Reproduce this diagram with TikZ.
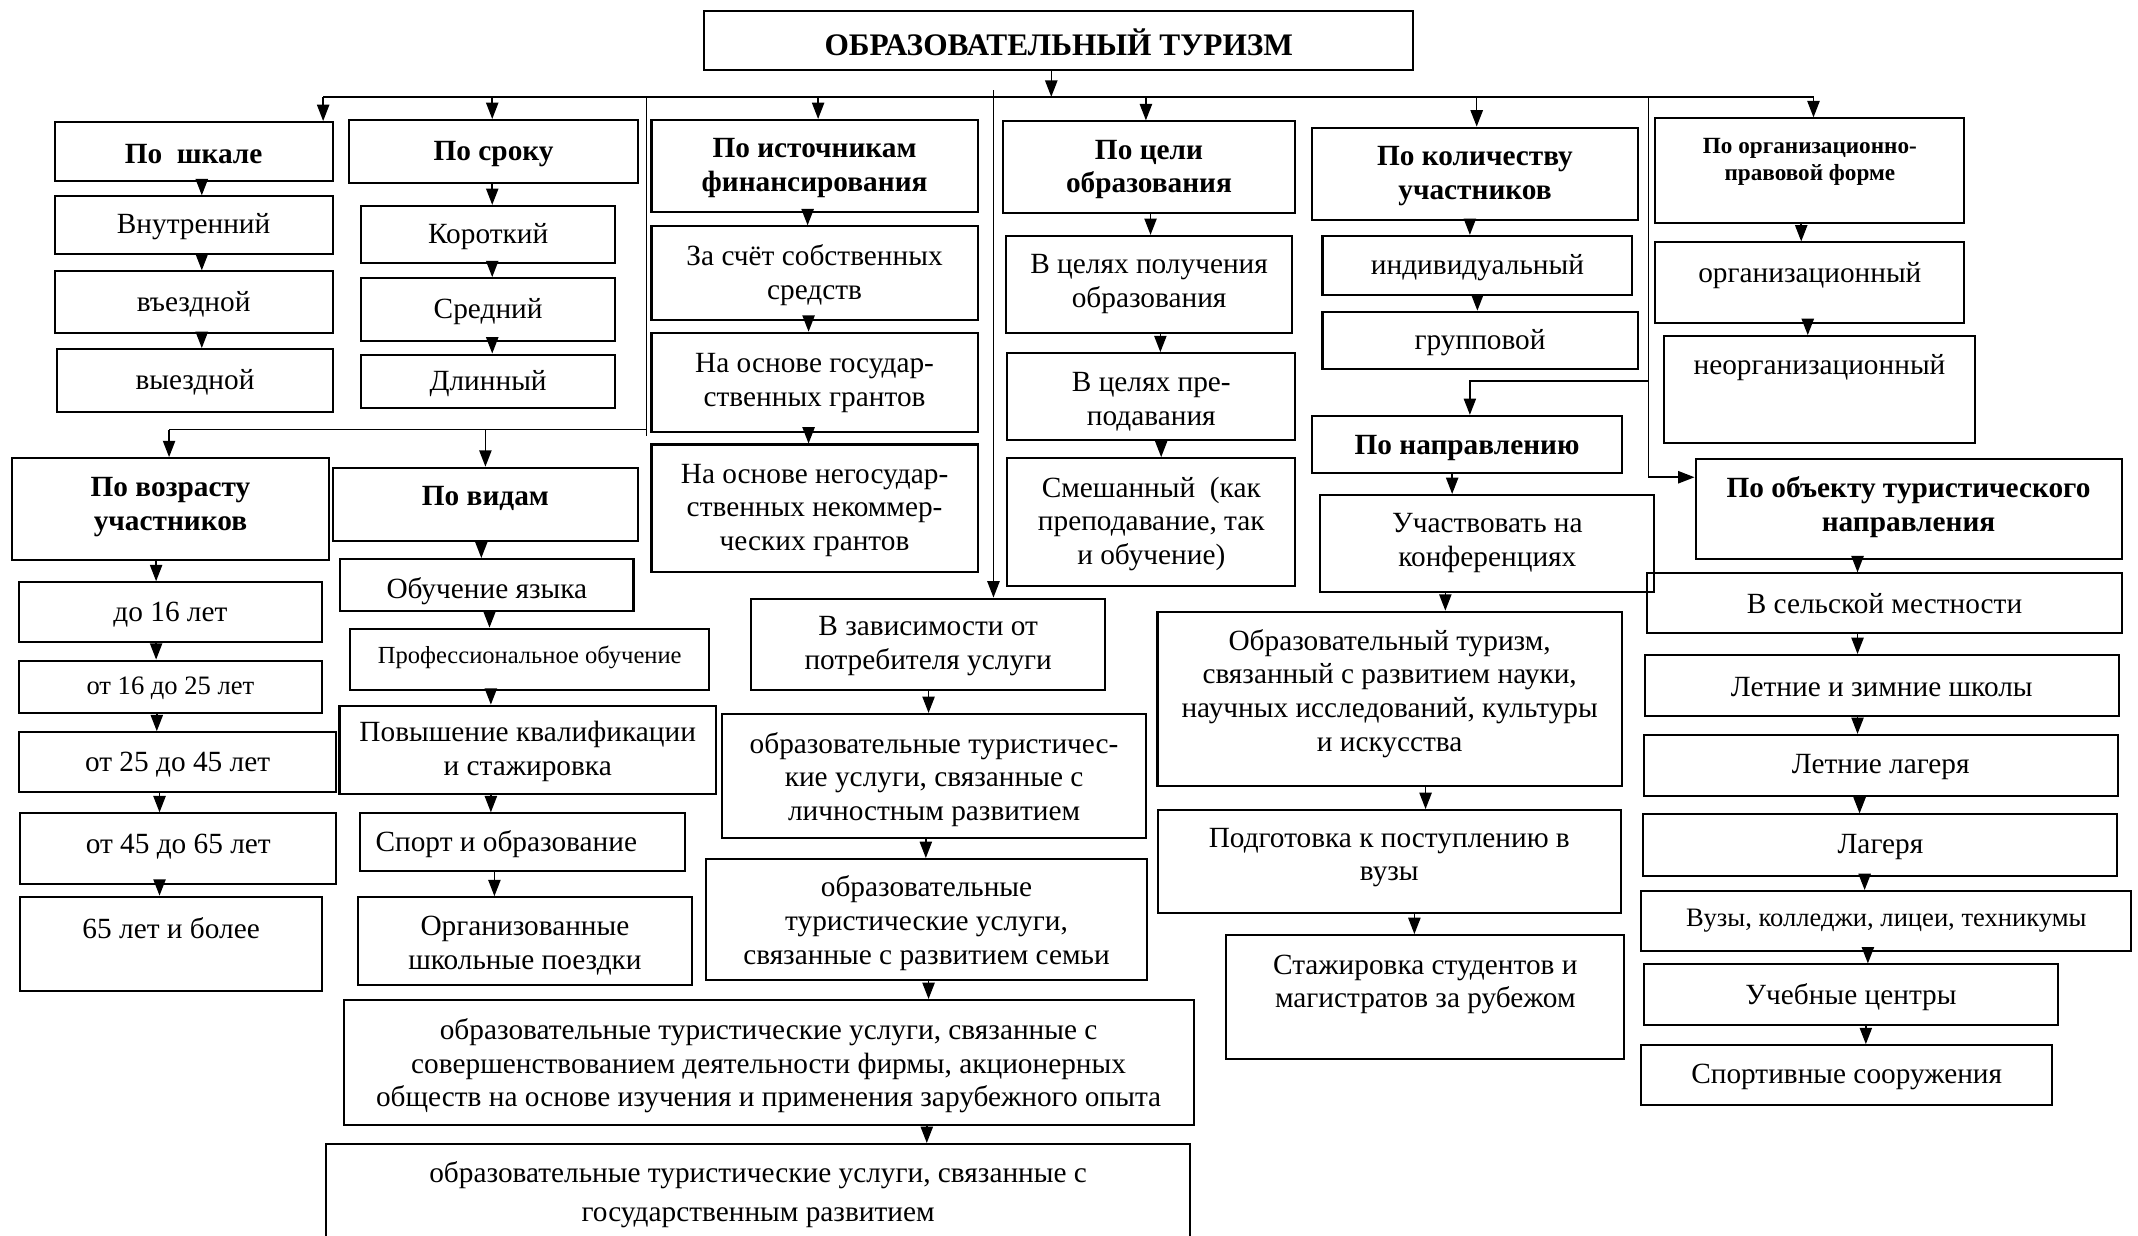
\documentclass[tikz,border=0pt]{standalone}
\usepackage{fontspec}
\setmainfont{Liberation Serif}
\usetikzlibrary{fit,arrows.meta}
% box: [text style]{name}{x1}{y1}{x2}{y2}{text dy}{text}
\newcommand\bx[8][]{%
  \node[box, fit={(#3,#4) (#5,#6)}] (#2) {};
  \node[txt,#1] (#2t) at ({(#3+#5)/2},{(#4+#6)/2+#7}) {#8};
}
% vertical arrow from box #1 to box #2 at x=#3
\newcommand\va[3]{%
  \coordinate (tmpx) at (#3,0);
  \draw[arr] (#1.south -| tmpx) -- (#2.north -| tmpx);
}
\begin{document}
\begin{tikzpicture}[x=1pt,y=-1pt,
  box/.style={draw, line width=1.5pt, inner sep=0pt},
  txt/.style={align=center, inner sep=0pt, yshift=-1.5pt, font=\fontsize{21.5}{24.7}\selectfont},
  hd/.style={font=\fontsize{21.5}{24.7}\selectfont\bfseries},
  arr/.style={line width=1.1pt, -{Triangle[length=12pt,width=9pt]}},
  conn/.style={line width=1.1pt}]
\useasboundingbox (0,0) rectangle (1568,906);
\fill[white] (0,0) rectangle (1568,906);

% title
\bx[font=\fontsize{23}{27}\selectfont\bfseries]{title}{516.5}{8}{1036.5}{51}{0}{ОБРАЗОВАТЕЛЬНЫЙ ТУРИЗМ}

% column: scale
\bx[hd]{shk}{40}{89.5}{244}{133}{0}{По~~шкале}
\bx{vnut}{40}{144}{244}{186}{0}{Внутренний}
\bx{vezd}{40}{199}{244}{244}{0}{въездной}
\bx{vyezd}{42}{256}{244}{302}{0}{выездной}

% column: term
\bx[hd]{srok}{256}{88}{468}{134.5}{0}{По сроку}
\bx{krat}{265}{151}{451}{193}{0}{Короткий}
\bx{sred}{265}{204}{451}{250}{0}{Средний}
\bx{dlin}{265}{260}{451}{299}{0}{Длинный}

% column: financing
\bx[hd]{fin}{477.8}{88}{717}{155.7}{0}{По источникам\\финансирования}
\bx{fina}{477.8}{166}{717}{235}{0}{За счёт собственных\\средств}
\bx{finb}{477.8}{244}{717}{316.6}{-1}{На основе государ-\\ственных грантов}
\bx{finc}{477.8}{326}{717}{419.7}{0}{На основе негосудар-\\ственных некоммер-\\ческих грантов}

% column: goal
\bx[hd]{cel}{735.4}{89}{949.9}{156.5}{0}{По цели\\образования}
\bx{cela}{738}{173}{947.5}{244.5}{-2}{В целях получения\\образования}
\bx{celb}{738.8}{259}{949.9}{323}{2}{В целях пре-\\подавания}
\bx{celc}{738.8}{336}{949.9}{429.5}{0}{Смешанный~~(как\\преподавание, так\\и обучение)}

% column: quantity
\bx[hd]{kol}{962.5}{93.6}{1201}{161.4}{0}{По количеству\\участников}
\bx{kola}{969.9}{173}{1197.2}{216}{0}{индивидуальный}
\bx{kolb}{969.9}{228.6}{1201.1}{270.7}{0}{групповой}

% column: legal form
\bx[font=\fontsize{17}{20}\selectfont\bfseries]{org}{1214}{86.8}{1440.7}{163.8}{-8}{По организационно-\\правовой форме}
\bx{orga}{1214}{177.8}{1440.7}{236.7}{-7}{организационный}
\bx{orgb}{1220.7}{246.5}{1448.1}{325.2}{-18}{неорганизационный}

% column: age
\bx[hd]{voz}{9}{336}{241}{411}{-3}{По возрасту\\участников}
\bx{voza}{14}{427}{236}{471}{0}{до 16 лет}
\bx[font=\fontsize{19.5}{23}\selectfont]{vozb}{14}{484.5}{236}{522.7}{0}{от 16 до 25 лет}
\bx{vozc}{14}{537}{246.5}{581}{0}{от 25 до 45 лет}
\bx{vozd}{15}{596.5}{246.5}{648}{-3}{от 45 до 65 лет}
\bx{voze}{15}{657.6}{236}{726.5}{-13}{65 лет и более}

% column: kinds
\bx[hd]{vid}{244}{343}{468}{397}{-6}{По видам}
\bx{vida}{249.5}{410}{464.6}{448}{3}{Обучение языка}
\bx[font=\fontsize{18}{21}\selectfont]{vidb}{257}{461}{520}{506}{-3}{Профессиональное обучение}
\bx{vidc}{249}{517.5}{525}{582}{0}{Повышение квалификации\\и стажировка}
\bx[xshift=-12pt]{vidd}{264}{596.5}{502.7}{638.5}{0}{Спорт и образование}
\bx{vide}{262.6}{658}{507.4}{722.4}{2}{Организованные\\школьные поездки}

% column: consumer
\bx{potr}{551}{439}{810.5}{506}{0}{В зависимости от\\потребителя услуги}
\bx{potra}{529.3}{523.6}{840.8}{614.8}{1}{образовательные туристичес-\\кие услуги, связанные с\\личностным развитием}
\bx{potrb}{518}{630}{841}{719}{1}{образовательные\\туристические услуги,\\связанные с развитием семьи}
\bx{potrc}{252}{733.4}{875.4}{825}{1}{образовательные туристические услуги, связанные с\\совершенствованием деятельности фирмы, акционерных\\обществ на основе изучения и применения зарубежного опыта}
\bx{potrd}{239}{839}{873}{910}{0}{образовательные туристические услуги, связанные с\\[4.3pt]государственным развитием}

% column: direction
\bx[hd]{nap}{962}{305}{1189.8}{347}{1}{По направлению}
\bx{napa}{968.3}{363}{1213.3}{434}{-2}{Участвовать на\\конференциях}
\bx{napb}{848.9}{448.6}{1189.4}{576.5}{-5.5}{Образовательный туризм,\\связанный с развитием науки,\\научных исследований, культуры\\и искусства}
\bx{napc}{849}{594.1}{1188.8}{669.9}{-4.5}{Подготовка к поступлению в\\вузы}
\bx{napd}{899.4}{685.8}{1191.2}{776.3}{-10.5}{Стажировка студентов и\\магистратов за рубежом}

% column: object
\bx[hd]{obj}{1243.5}{336.9}{1555.9}{410}{-3}{По объекту туристического\\направления}
\bx{obja}{1208.2}{420.5}{1555.9}{464.5}{-1.5}{В сельской местности}
\bx{objb}{1206.2}{480.4}{1553.9}{524.9}{0}{Летние и зимние школы}
\bx{objc}{1205.5}{539}{1553.2}{583.5}{0}{Летние лагеря}
\bx{objd}{1205.3}{597.3}{1552.9}{642.3}{0}{Лагеря}
\bx[font=\fontsize{19.5}{23}\selectfont]{obje}{1203.8}{653.5}{1563.1}{697.5}{-2}{Вузы, колледжи, лицеи, техникумы}
\bx{objf}{1205.8}{707.3}{1509.2}{751.8}{0}{Учебные центры}
\bx{objg}{1203.8}{766.5}{1504.9}{810.5}{0}{Спортивные сооружения}

% ---------- connectors ----------
% top bus
\coordinate (bL) at (237,71);
\coordinate (bR) at (1330,71);
\draw[conn] (bL) -- (bR);
\coordinate (tx) at (771,71);
\draw[arr] (title.south -| tx) -- (tx);
\draw[arr] (bL) -- (bL |- shk.north);
\coordinate (bb) at (361,71);   \draw[arr] (bb) -- (bb |- srok.north);
\coordinate (bc) at (600,71);   \draw[arr] (bc) -- (bc |- fin.north);
\coordinate (bd) at (840.4,71); \draw[arr] (bd) -- (bd |- cel.north);
\coordinate (be) at (1083,71);  \draw[arr] (be) -- (be |- kol.north);
\draw[arr] (bR) -- (bR |- org.north);

% left branch to age / kinds
\coordinate (vat) at (474,71);
\coordinate (vab) at (474,320);
\draw[conn] (vat) -- (vab);
\coordinate (haL) at (124,315);
\coordinate (haR) at (474,315);
\draw[conn] (haL) -- (haR);
\draw[arr] (haL) -- (haL |- voz.north);
\coordinate (ham) at (356,315);
\draw[arr] (ham) -- (ham |- vid.north);

% middle branch to consumer
\coordinate (vbt) at (728.6,66);
\draw[arr] (vbt) -- (vbt |- potr.north);

% right branch to direction / object
\coordinate (vct) at (1209,71);
\coordinate (vcb) at (1209,350);
\draw[arr] (vct) -- (vcb) -- (vcb -| obj.west);
\coordinate (vcm) at (1209,279.5);
\coordinate (vcn) at (1078,279.5);
\draw[arr] (vcm) -- (vcn) -- (vcn |- nap.north);

% chains
\va{shk}{vnut}{148}
\va{vnut}{vezd}{148}
\va{vezd}{vyezd}{148}
\va{srok}{krat}{361}
\va{krat}{sred}{361}
\va{sred}{dlin}{361}
\va{fin}{fina}{592.3}
\va{fina}{finb}{593}
\va{finb}{finc}{593}
\va{cel}{cela}{843.8}
\va{cela}{celb}{851}
\va{celb}{celc}{851.6}
\va{kol}{kola}{1078}
\va{kola}{kolb}{1083.5}
\va{org}{orga}{1321}
\va{orga}{orgb}{1325.8}
\va{voz}{voza}{114.5}
\va{voza}{vozb}{114.5}
\va{vozb}{vozc}{115}
\va{vozc}{vozd}{117}
\va{vozd}{voze}{117}
\va{vid}{vida}{353}
\va{vida}{vidb}{359}
\va{vidb}{vidc}{360}
\va{vidc}{vidd}{360}
\va{vidd}{vide}{362.6}
\va{potr}{potra}{681}
\va{potra}{potrb}{679}
\va{potrb}{potrc}{681}
\va{potrc}{potrd}{679.7}
\va{nap}{napa}{1065}
\va{napa}{napb}{1060}
\va{napb}{napc}{1045.5}
\va{napc}{napd}{1037.3}
\va{obj}{obja}{1362.3}
\va{obja}{objb}{1362.3}
\va{objb}{objc}{1362.3}
\va{objc}{objd}{1363.8}
\va{objd}{obje}{1367.5}
\va{obje}{objf}{1369.9}
\va{objf}{objg}{1368.4}
\end{tikzpicture}
\end{document}
